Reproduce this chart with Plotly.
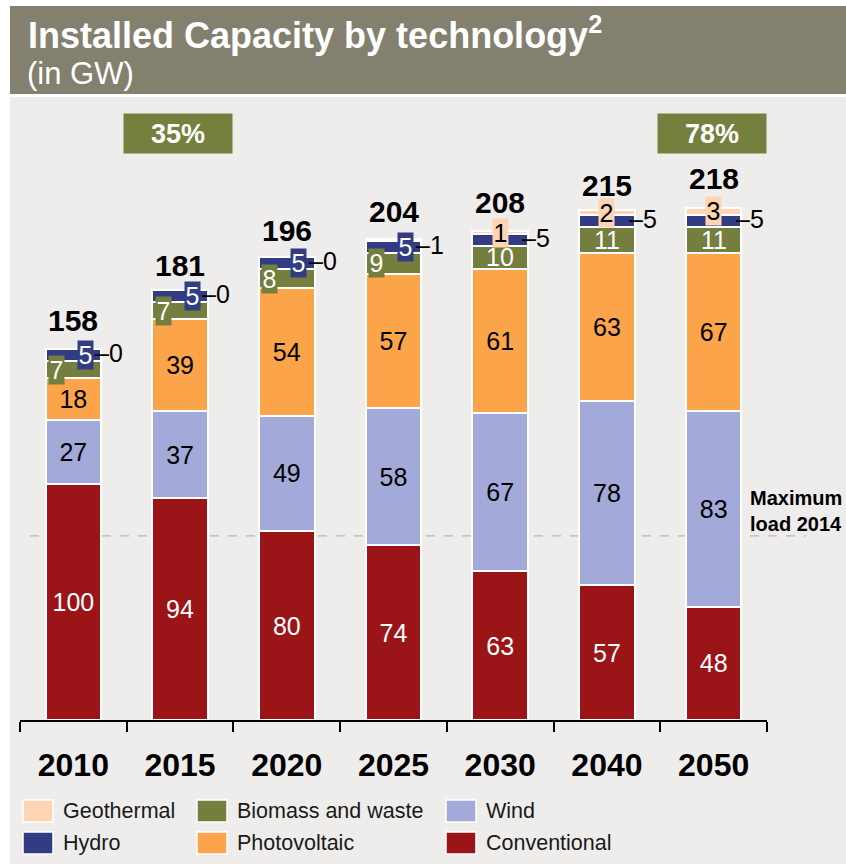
import numpy as np
import plotly.graph_objects as go

# Installed capacity (GW) by technology and year
years = ["2010", "2015", "2020", "2025", "2030", "2040", "2050"]
conventional = [100, 94, 80, 74, 63, 57, 48]
wind = [27, 37, 49, 58, 67, 78, 83]
photovoltaic = [18, 39, 54, 57, 61, 63, 67]
biomass = [7, 7, 8, 9, 10, 11, 11]
hydro = [5, 5, 5, 5, 5, 5, 5]
geothermal = [0, 0, 0, 1, 1, 2, 3]
totals = [158, 181, 196, 204, 208, 215, 218]
renewable_share = {"2015": "35%", "2050": "78%"}
max_load_2014 = 78

FONT = "Liberation Sans, Arial, sans-serif"
C_CONV = "#9b1518"
C_WIND = "#a3a9d8"
C_PV = "#fba44a"
C_BIO = "#747e3e"
C_HYDRO = "#323c85"
C_GEO = "#fdd5b2"
C_HEADER = "#84806f"
C_BG = "#eeedeb"
C_BOX = "#76803e"

# plot-area geometry in pixels (used to place decorations in paper space)
W_FIG, H_FIG = 846, 864
L, R, T, B = 20, 767, 110, 720
PW, PH = R - L, B - T
PX_PER_GW = 2.36


def px_x(px):
    return (px - L) / PW


def px_y(py):
    return (B - py) / PH


fig = go.Figure()

series = [
    ("Conventional", conventional, C_CONV, "white"),
    ("Wind", wind, C_WIND, "black"),
    ("Photovoltaic", photovoltaic, C_PV, "black"),
    ("Biomass and waste", biomass, C_BIO, "white"),
    ("Hydro", hydro, C_HYDRO, "white"),
    ("Geothermal", geothermal, C_GEO, "black"),
]
labelled_inside = {"Conventional", "Wind", "Photovoltaic"}

for name, vals, color, tcolor in series:
    fig.add_trace(go.Bar(
        x=years, y=vals, name=name,
        marker=dict(color=color, line=dict(color="white", width=2)),
        text=[str(v) for v in vals] if name in labelled_inside else None,
        textposition="inside" if name in labelled_inside else "none",
        insidetextanchor="middle",
        constraintext="none",
        textfont=dict(family=FONT, size=25, color=tcolor),
        showlegend=False,
        hoverinfo="x+y+name",
    ))

# cumulative stack positions
stack = np.array([conventional, wind, photovoltaic, biomass, hydro, geothermal], dtype=float)
tops = np.cumsum(stack, axis=0)
bottoms = tops - stack
mids = (tops + bottoms) / 2
BIO, HYD, GEO = 3, 4, 5

annotations = []


def label(i, y, text, color, bg=None, xshift=0, yshift=0, xanchor="center", size=25):
    # i is the category index on the x axis
    a = dict(x=i, y=float(y), xref="x", yref="y", text=text, showarrow=False,
             font=dict(family=FONT, size=size, color=color),
             xanchor=xanchor, yanchor="middle", xshift=xshift, yshift=yshift)
    if bg:
        a.update(bgcolor=bg, width=15, height=28, borderpad=0)
    annotations.append(a)


for i, yr in enumerate(years):
    compact = biomass[i] < 10
    if compact:
        label(i, mids[BIO, i], str(biomass[i]), "white", bg=C_BIO, xshift=-17)
        label(i, mids[HYD, i], str(hydro[i]), "white", bg=C_HYDRO, xshift=12)
        label(i, mids[HYD, i], "–" + str(geothermal[i]), "black", xshift=20,
              yshift=2, xanchor="left")
    else:
        label(i, mids[BIO, i], str(biomass[i]), "white")
        label(i, mids[GEO, i], str(geothermal[i]), "black", bg=C_GEO)
        label(i, mids[HYD, i], "–" + str(hydro[i]), "black", xshift=20,
              yshift=2, xanchor="left")
    # total on top of the column
    annotations.append(dict(
        x=i, y=totals[i], xref="x", yref="y", text=f"<b>{totals[i]}</b>",
        showarrow=False, xanchor="center", yanchor="middle", yshift=27,
        font=dict(family=FONT, size=30, color="black")))

# renewable share boxes
for yr, txt in renewable_share.items():
    annotations.append(dict(
        x=years.index(yr), y=px_y(133), xref="x", yref="paper", text=f"<b>{txt}</b>",
        showarrow=False, bgcolor=C_BOX, width=108, height=39, borderpad=0,
        xanchor="center", yanchor="middle", xshift=-2,
        font=dict(family=FONT, size=27, color="white")))

# header title
annotations.append(dict(
    x=px_x(26), y=px_y(33), xref="paper", yref="paper", xanchor="left",
    yanchor="middle", showarrow=False,
    text="<b>Installed Capacity by technology<sup>2</sup></b>",
    font=dict(family=FONT, size=36, color="white")))
annotations.append(dict(
    x=px_x(25), y=px_y(73), xref="paper", yref="paper", xanchor="left",
    yanchor="middle", showarrow=False, text="(in GW)",
    font=dict(family=FONT, size=31, color="white")))

# maximum load marker label
annotations.append(dict(
    x=px_x(748), y=px_y(511), xref="paper", yref="paper", xanchor="left",
    yanchor="middle", showarrow=False, align="left",
    text="<b>Maximum<br>load 2014</b>",
    font=dict(family=FONT, size=20, color="black")))

shapes = [
    # grey canvas and header band
    dict(type="rect", xref="paper", yref="paper", layer="below",
         x0=px_x(10), x1=px_x(W_FIG + 5), y0=px_y(H_FIG + 5), y1=px_y(97),
         fillcolor=C_BG, line=dict(width=0)),
    dict(type="rect", xref="paper", yref="paper", layer="below",
         x0=px_x(10), x1=px_x(W_FIG + 5), y0=px_y(94), y1=px_y(6),
         fillcolor=C_HEADER, line=dict(width=0)),
    # maximum load 2014
    dict(type="line", xref="paper", yref="y", layer="below",
         x0=px_x(30), x1=px_x(806), y0=max_load_2014, y1=max_load_2014,
         line=dict(color="#aaaaaa", width=1, dash="dash")),
]

# legend, drawn as swatches with text in three columns
legend_items = [
    ("Geothermal", C_GEO, 23, 811), ("Biomass and waste", C_BIO, 197, 811),
    ("Wind", C_WIND, 446, 811), ("Hydro", C_HYDRO, 23, 843),
    ("Photovoltaic", C_PV, 197, 843), ("Conventional", C_CONV, 446, 843),
]
for name, color, lx, cy in legend_items:
    shapes.append(dict(
        type="rect", xref="paper", yref="paper",
        x0=px_x(lx), x1=px_x(lx + 30), y0=px_y(cy + 11), y1=px_y(cy - 11),
        fillcolor=color, line=dict(color="white", width=1.5)))
    annotations.append(dict(
        x=px_x(lx + 38), y=px_y(cy), xref="paper", yref="paper",
        xanchor="left", yanchor="middle", showarrow=False, text=name,
        font=dict(family=FONT, size=21.5, color="#1a1a1a")))

fig.update_layout(
    width=W_FIG, height=H_FIG,
    margin=dict(l=L, r=W_FIG - R, t=T, b=H_FIG - B, pad=0),
    paper_bgcolor="white", plot_bgcolor="rgba(0,0,0,0)",
    barmode="stack", bargap=0.48,
    font=dict(family=FONT),
    shapes=shapes, annotations=annotations,
    xaxis=dict(
        type="category", categoryorder="array", categoryarray=years,
        range=[-0.5, len(years) - 0.5],
        showline=True, linecolor="black", linewidth=2,
        ticks="outside", tickson="boundaries", ticklen=10, tickwidth=2,
        tickcolor="black", showgrid=False, zeroline=False,
        tickvals=years, ticktext=[f"<b>{y}</b>" for y in years],
        tickfont=dict(family=FONT, size=32, color="black"),
        ticklabelstandoff=16,
    ),
    yaxis=dict(visible=False, range=[0, PH / PX_PER_GW], fixedrange=True),
)

fig.write_html("out.html")
